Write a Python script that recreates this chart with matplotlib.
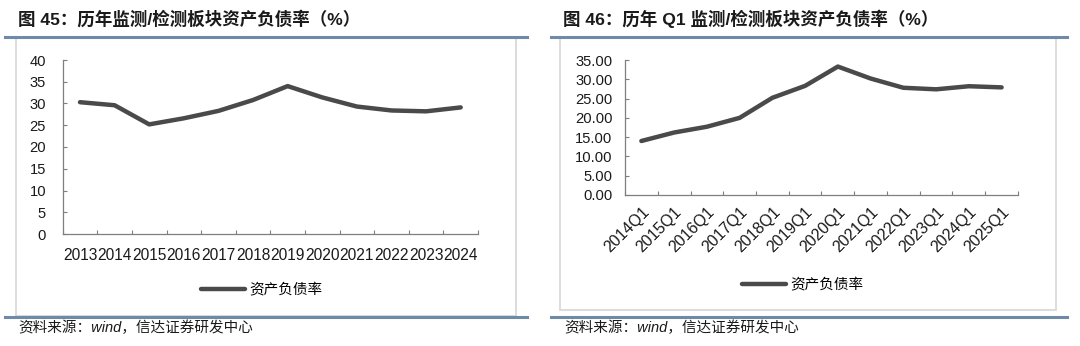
import matplotlib
matplotlib.use("Agg")
import matplotlib.pyplot as plt
from matplotlib.lines import Line2D
from matplotlib.patches import Rectangle

plt.rcParams['font.family'] = ['Liberation Sans', 'Noto Sans CJK SC', 'DejaVu Sans']

# ---------------- data ----------------
years_left = ['2013', '2014', '2015', '2016', '2017', '2018', '2019', '2020',
              '2021', '2022', '2023', '2024']
ratio_left = [30.3, 29.6, 25.2, 26.6, 28.3, 30.8, 34.0, 31.4, 29.3, 28.4, 28.2, 29.1]

quarters_right = ['2014Q1', '2015Q1', '2016Q1', '2017Q1', '2018Q1', '2019Q1',
                  '2020Q1', '2021Q1', '2022Q1', '2023Q1', '2024Q1', '2025Q1']
ratio_right = [14.0, 16.2, 17.7, 20.0, 25.2, 28.3, 33.3, 30.2, 27.8, 27.4, 28.2, 27.9]

yticks_left = [0, 5, 10, 15, 20, 25, 30, 35, 40]
yticks_right = [0, 5, 10, 15, 20, 25, 30, 35]

title_left = '图 45：历年监测/检测板块资产负债率（%）'
title_right = '图 46：历年 Q1 监测/检测板块资产负债率（%）'
legend_label = '资产负债率'
source_text = '资料来源：wind，信达证券研发中心'

# ---------------- layout ----------------
W, H = 1080, 346
fig = plt.figure(figsize=(W / 100, H / 100), dpi=100)
fig.patch.set_facecolor('white')

def fx(px):
    return px / W

def fy(py):
    return 1 - py / H

LINE_COLOR = '#4a4a4a'
RULE_COLOR = '#6f8aa8'
BOX_COLOR = '#d9d9d9'
CJK = ['Noto Sans CJK SC', 'DejaVu Sans']
MIXED = ['Liberation Sans', 'Noto Sans CJK SC', 'DejaVu Sans']

def panel(rule_x0, rule_x1, box_x0, box_x1, box_bottom, title, title_x):
    fig.text(fx(title_x), fy(19), title, fontsize=12.6, fontweight='bold',
             color='#1a1a1a', va='center', ha='left', family=MIXED)
    fig.add_artist(Line2D([fx(rule_x0), fx(rule_x1)], [fy(37), fy(37)],
                          color=RULE_COLOR, lw=2.2, transform=fig.transFigure))
    fig.add_artist(Line2D([fx(rule_x0), fx(rule_x1)], [fy(317), fy(317)],
                          color=RULE_COLOR, lw=2.2, transform=fig.transFigure))
    fig.add_artist(Rectangle((fx(box_x0), fy(box_bottom)),
                             fx(box_x1) - fx(box_x0), fy(38) - fy(box_bottom),
                             fill=False, edgecolor=BOX_COLOR, lw=1.3,
                             transform=fig.transFigure))
    fig.text(fx(rule_x0 + 13), fy(328), source_text, fontsize=10.5,
             style='italic', color='#1a1a1a', va='center', ha='left', family=MIXED)


def draw_axes(left, right, bottom, top, cats, vals, yticks, ymax, fmt,
              rotate, ypad, xpad, xsize, legend_center, legend_y):
    ax = fig.add_axes([fx(left), fy(bottom), fx(right) - fx(left), fy(top) - fy(bottom)])
    n = len(cats)
    x = list(range(n))
    line, = ax.plot(x, vals, color=LINE_COLOR, lw=3.2, solid_capstyle='round',
                    solid_joinstyle='round', label=legend_label)
    ax.set_xlim(-0.5, n - 0.5)
    ax.set_ylim(0, ymax)
    for s in ['top', 'right']:
        ax.spines[s].set_visible(False)
    for s in ['left', 'bottom']:
        ax.spines[s].set_color('#7f7f7f')
        ax.spines[s].set_linewidth(0.9)
    ax.set_yticks(yticks)
    ax.set_yticklabels([fmt.format(v) for v in yticks])
    ax.tick_params(axis='y', direction='in', length=3, width=0.8, color='#7f7f7f',
                   pad=ypad, labelsize=10.6, labelcolor='#1a1a1a')
    ax.set_xticks([i - 0.5 for i in range(n + 1)])
    ax.set_xticklabels([])
    ax.set_xticks(x, minor=True)
    if rotate:
        ax.set_xticklabels(cats, minor=True, rotation=45, ha='right',
                           rotation_mode='anchor')
    else:
        ax.set_xticklabels(cats, minor=True)
    ax.tick_params(axis='x', which='major', direction='in', length=3, width=0.8,
                   color='#7f7f7f')
    ax.tick_params(axis='x', which='minor', length=0, pad=xpad, labelsize=xsize,
                   labelcolor='#1a1a1a')
    ax.set_facecolor('none')
    fig.legend(handles=[line], labels=[legend_label], loc='center',
               bbox_to_anchor=(fx(legend_center), fy(legend_y)),
               frameon=False, handlelength=3.0, handletextpad=0.3,
               prop={'family': CJK, 'size': 10.5})
    return ax

panel(5, 527, 16, 516, 316, title_left, 18)
panel(551, 1067, 560, 1056, 310, title_right, 563)

draw_axes(62.7, 478, 234, 60, years_left, ratio_left, yticks_left, 40, '{:d}',
          False, 12, 10, 11.2, 262, 290)
draw_axes(625, 1018, 195, 60, quarters_right, ratio_right, yticks_right, 35, '{:.2f}',
          True, 9, 7, 11.5, 803, 285)

fig.savefig('out.png', dpi=100, facecolor='white')
